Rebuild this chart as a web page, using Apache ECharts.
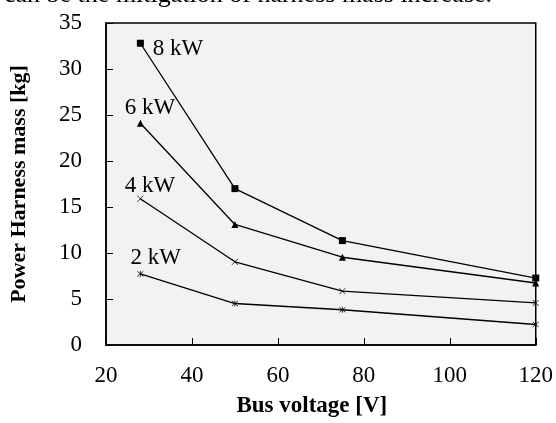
<!DOCTYPE html>
<html>
<head>
<meta charset="utf-8">
<script src="https://cdn.jsdelivr.net/npm/echarts@6/dist/echarts.min.js"></script>
<style>
html,body{margin:0;padding:0;background:#fff;}
#chart{width:556px;height:423px;}
</style>
</head>
<body>
<div id="chart"></div>
<script>
var voltages = [28, 50, 75, 120];
var mass8kW = [32.8, 17.0, 11.35, 7.28];
var mass6kW = [24.1, 13.1, 9.54, 6.74];
var mass4kW = [15.9, 9.04, 5.85, 4.57];
var mass2kW = [7.73, 4.51, 3.83, 2.23];
var seriesNames = ['8 kW', '6 kW', '4 kW', '2 kW'];
var xTicks = [20, 40, 60, 80, 100, 120];
var yTicks = [0, 5, 10, 15, 20, 25, 30, 35];

var font = "'Liberation Serif', 'Times New Roman', serif";
var crossPath = 'path://M0,0L10,10M10,0L0,10';
var starPath = 'path://M0,0L10,10M10,0L0,10M5,-1L5,11';

function pairs(vals){ return voltages.map(function(v,i){ return [v, vals[i]]; }); }

function mkSeries(name, vals, symbol, size, labelOffset){
  var d = pairs(vals).map(function(p, i){
    var item = {value: p};
    if(i === 0){
      item.label = {show: true, formatter: name, position: 'inside', offset: labelOffset,
        color: '#000', fontFamily: font, fontSize: 23};
    }
    return item;
  });
  return {
    name: name, type: 'line', data: d, symbol: symbol, symbolSize: size,
    showAllSymbol: true, animation: false,
    lineStyle: {color: '#000', width: 1.3},
    itemStyle: {color: '#000', borderColor: '#000', borderWidth: symbol.indexOf('path') === 0 ? 0.8 : 0},
    emphasis: {disabled: true}
  };
}

var chart = echarts.init(document.getElementById('chart'), null, {renderer: 'canvas'});
chart.setOption({
  backgroundColor: '#fff',
  animation: false,
  graphic: [{
    type: 'text', silent: true,
    style: {x: 4, y: 8, verticalAlign: 'bottom', text: 'can be the mitigation of harness mass increase.',
      font: '26px ' + font, fill: '#000'}
  }],
  grid: {left: 100, right: 19, top: 23, bottom: 71, show: true,
    backgroundColor: '#f2f2f2', borderColor: '#000', borderWidth: 1.5},
  xAxis: {
    type: 'value', min: xTicks[0], max: xTicks[xTicks.length-1], interval: 20,
    name: 'Bus voltage [V]', nameLocation: 'middle', nameGap: 50,
    nameTextStyle: {fontFamily: font, fontSize: 23, fontWeight: 'bold', color: '#000', padding: [0, 18, 0, 0]},
    axisLine: {show: true, lineStyle: {color: '#000', width: 1.5}},
    axisTick: {show: true, inside: true, length: 7, lineStyle: {color: '#000', width: 1}},
    axisLabel: {fontFamily: font, fontSize: 23, color: '#000', margin: 19},
    splitLine: {show: false}
  },
  yAxis: {
    type: 'value', min: yTicks[0], max: yTicks[yTicks.length-1], interval: 5,
    name: 'Power Harness mass [kg]', nameLocation: 'middle', nameGap: 76,
    nameTextStyle: {fontFamily: font, fontSize: 22, fontWeight: 'bold', color: '#000'},
    axisLine: {show: true, lineStyle: {color: '#000', width: 1.5}},
    axisTick: {show: true, inside: true, length: 7, lineStyle: {color: '#000', width: 1}},
    axisLabel: {fontFamily: font, fontSize: 23, color: '#000', margin: 24},
    splitLine: {show: false}
  },
  series: [
    mkSeries(seriesNames[0], mass8kW, 'rect', 7, [37.5, 6]),
    mkSeries(seriesNames[1], mass6kW, 'triangle', 7, [9.5, -15]),
    mkSeries(seriesNames[2], mass4kW, crossPath, 6, [9.5, -12.6]),
    mkSeries(seriesNames[3], mass2kW, starPath, 6, [15.3, -16])
  ]
});
</script>
</body>
</html>
